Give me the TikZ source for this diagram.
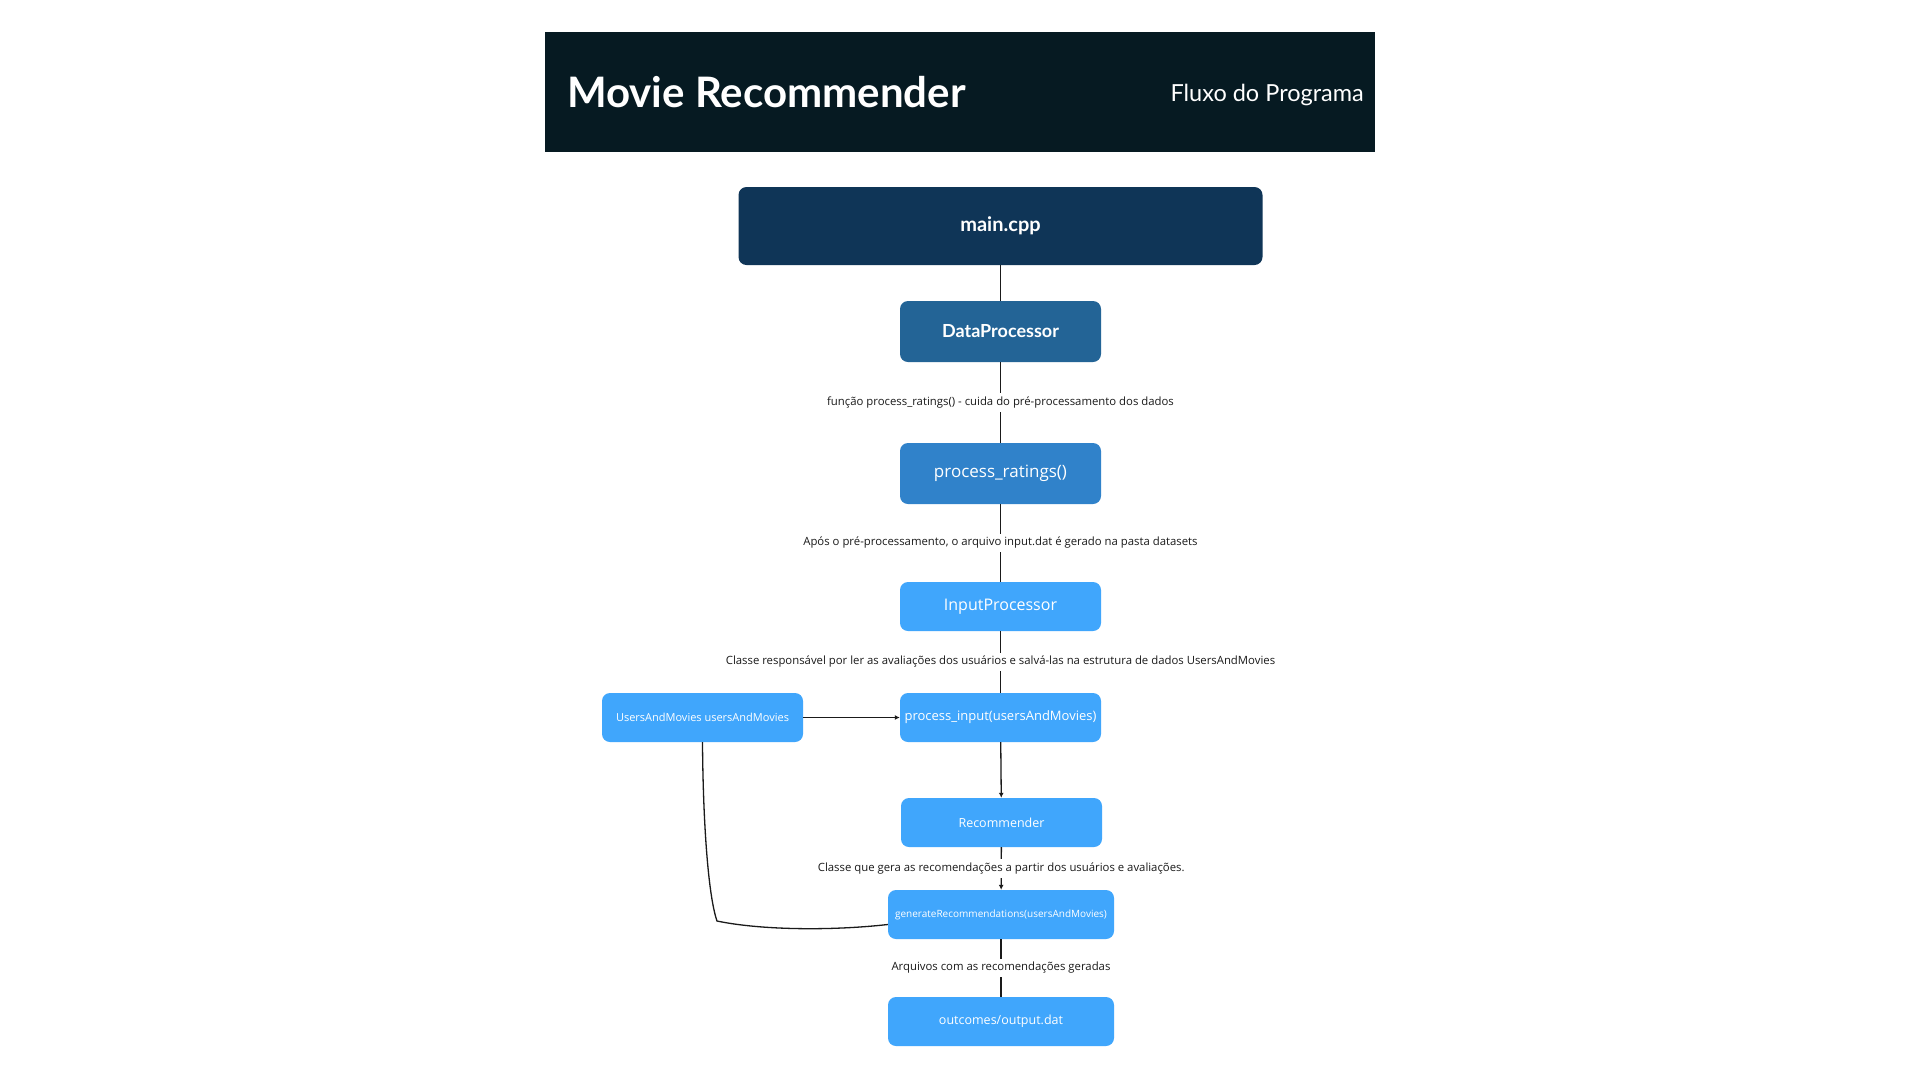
\documentclass[tikz,border=0pt]{standalone}
\usepackage{fontspec}
\setmainfont{Open Sans}
\newfontfamily\titlefont{Lato}
\usetikzlibrary{arrows.meta}
\definecolor{hdr}{HTML}{061A22}
\definecolor{navy}{HTML}{0F3557}
\definecolor{midblue}{HTML}{236496}
\definecolor{blue}{HTML}{3082CA}
\definecolor{light}{HTML}{40A6FC}
\definecolor{ink}{HTML}{1A1A1A}
\newcommand{\fs}[1]{\fontsize{#1}{#1}\selectfont}
\tikzset{
  box/.style={rounded corners=8pt, inner sep=0pt, text=white, align=center, minimum width=201pt, minimum height=49pt},
  conn/.style={draw=ink, line width=1.3pt},
  arr/.style={-{Latex[length=5pt,width=5pt]}},
  lbl/.style={fill=white, inner sep=3.5pt, text=ink, font=\fs{11.35}}
}
\begin{document}
\begin{tikzpicture}[x=1pt,y=-1pt]
\useasboundingbox[fill=white] (0,0) rectangle (1920,1080);
% header
\node[fill=hdr, minimum width=830pt, minimum height=120pt, inner sep=0pt] (header) at (960,92) {};
\node[anchor=west, inner sep=0pt, text=white, font=\titlefont\bfseries\fs{42}] (title) at (567,92) {Movie Recommender};
\node[anchor=east, inner sep=0pt, text=white, font=\titlefont\fs{23.5}] (sub) at (1364,94.5) {Fluxo do Programa};
% boxes
\node[box, fill=navy, minimum width=524pt, minimum height=78pt, font=\titlefont\bfseries\fs{20}] (main) at (1000.5,226) {\raisebox{-2pt}{main.cpp}};
\node[box, fill=midblue, minimum height=61pt, font=\titlefont\bfseries\fs{18}] (dp) at (1000.5,331.5) {\raisebox{-1.5pt}{DataProcessor}};
\node[box, fill=blue, minimum height=61pt, font=\fs{17}] (pr) at (1000.5,473.5) {\raisebox{-1.5pt}{process\_ratings()}};
\node[box, fill=light, font=\fs{16}] (ip) at (1000.5,606.5) {\raisebox{-1pt}{InputProcessor}};
\node[box, fill=light, font=\fs{13}] (pi) at (1000.5,717.5) {\raisebox{-1pt}{process\_input(usersAndMovies)}};
\node[box, fill=light, font=\fs{11}] (um) at (702.5,717.5) {UsersAndMovies usersAndMovies};
\node[box, fill=light, font=\fs{12.5}] (rec) at (1001.5,822.5) {Recommender};
\node[box, fill=light, minimum width=226pt, font=\fs{10}] (gen) at (1001,914.5) {generateRecommendations(usersAndMovies)};
\node[box, fill=light, minimum width=226pt, font=\fs{12.5}] (out) at (1001,1021.5) {outcomes/output.dat};
% connectors
\draw[conn] (main) -- (dp);
\draw[conn] (dp) -- node[lbl] (l1) {função process\_ratings() - cuida do pré-processamento dos dados} (pr);
\draw[conn] (pr) -- node[lbl] (l2) {Após o pré-processamento, o arquivo input.dat é gerado na pasta datasets} (ip);
\draw[conn] (ip) -- node[lbl] (l3) {Classe responsável por ler as avaliações dos usuários e salvá-las na estrutura de dados UsersAndMovies} (pi);
\draw[conn, arr] (um) -- (pi);
\draw[conn, arr] (pi) -- (rec);
\draw[conn, arr] (rec) -- node[lbl] (l4) {Classe que gera as recomendações a partir dos usuários e avaliações.} (gen);
\draw[conn] (gen) -- node[lbl] (l5) {Arquivos com as recomendações geradas} (out);
\coordinate (bend) at (717,921);
\draw[conn] (um.south) .. controls (703,820) and (708,895) .. (bend)
  .. controls (760,930) and (830,931) .. ([yshift=-10pt]gen.west);
\end{tikzpicture}
\end{document}
